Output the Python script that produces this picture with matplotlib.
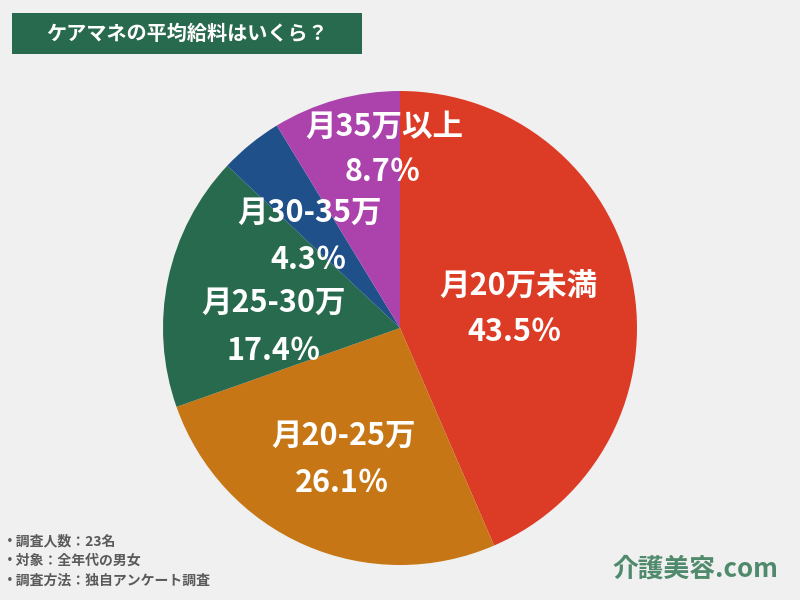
import matplotlib
matplotlib.use("Agg")
import matplotlib.pyplot as plt
import numpy as np

plt.rcParams['font.family'] = ['Noto Sans CJK JP', 'DejaVu Sans']

categories = ["月20万未満", "月20-25万", "月25-30万", "月30-35万", "月35万以上"]
values = [43.5, 26.1, 17.4, 4.3, 8.7]
value_labels = ["43.5％", "26.1％", "17.4％", "4.3％", "8.7％"]
colors = ["#dc3b25", "#c77615", "#286a4e", "#1f5089", "#ac43ad"]
# label centres in pie units (radius = 1), layout only
name_pos = [(0.498, 0.173), (-0.236, -0.456), (-0.532, 0.105), (-0.38, 0.485), (-0.068, 0.848)]
value_pos = [(0.485, -0.017), (-0.245, -0.654), (-0.532, -0.097), (-0.384, 0.287), (-0.072, 0.658)]

BG = "#f0f0f0"
fig = plt.figure(figsize=(8, 6), dpi=100, facecolor=BG)

# pie axes: centre (400,328) px, radius ~237 px
r_px = 237
cx, cy = 400, 600 - 328
ax = fig.add_axes([(cx - r_px) / 800, (cy - r_px) / 600, 2 * r_px / 800, 2 * r_px / 600])
ax.set_facecolor(BG)
wedges, _ = ax.pie(values, colors=colors, startangle=90, counterclock=False,
                   radius=1.0, wedgeprops=dict(linewidth=0))
ax.set_xlim(-1, 1)
ax.set_ylim(-1, 1)
ax.set_aspect('equal')
ax.axis('off')

for cat, vl, (nx, ny), (vx, vy) in zip(categories, value_labels, name_pos, value_pos):
    ax.text(nx, ny, cat, ha='center', va='center', color='white',
            fontsize=22, fontweight='bold')
    ax.text(vx, vy, vl, ha='center', va='center', color='white',
            fontsize=22, fontweight='bold')

# title box
tax = fig.add_axes([12 / 800, 1 - 54 / 600, 350 / 800, 41 / 600])
tax.set_facecolor("#286a4e")
tax.set_xticks([]); tax.set_yticks([])
for s in tax.spines.values():
    s.set_visible(False)
tax.text(0.5, 0.5, "ケアマネの平均給料はいくら？", ha='center', va='center',
         color='white', fontsize=14.5, fontweight='bold', transform=tax.transAxes)

# footnotes
notes = ["・調査人数：23名", "・対象：全年代の男女", "・調査方法：独自アンケート調査"]
for i, n in enumerate(notes):
    fig.text(3 / 800, 1 - (541 + 20 * i) / 600, n, ha='left', va='center',
             color='#5a5a5a', fontsize=10, fontweight='bold')

# logo
fig.text(778 / 800, 1 - 569 / 600, "介護美容.com", ha='right', va='center',
         color='#4f8a6c', fontsize=18.5, fontweight='bold')

fig.savefig("out.png", dpi=100, facecolor=BG)
